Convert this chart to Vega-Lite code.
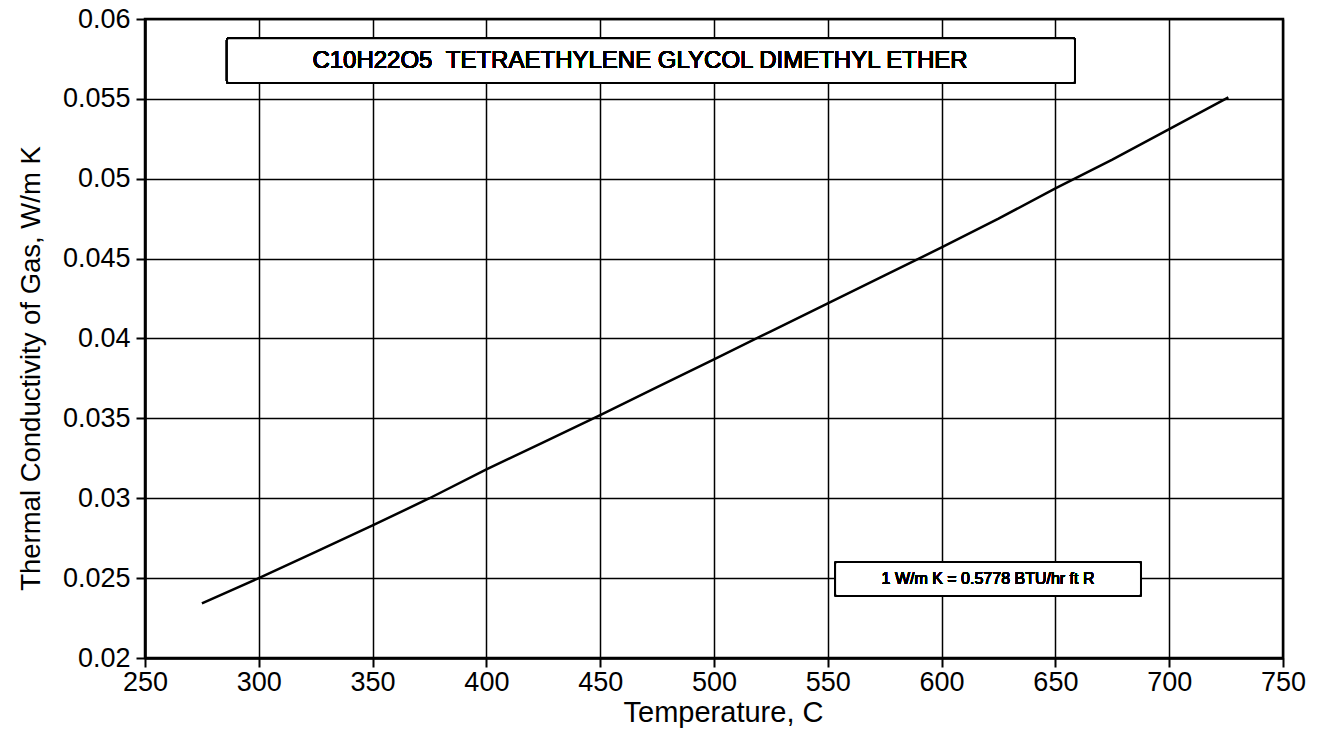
{
  "$schema": "https://vega.github.io/schema/vega-lite/v6.json",
  "width": 1138,
  "height": 639,
  "autosize": {"type": "none"},
  "padding": {"left": 145, "top": 19, "right": 43, "bottom": 79},
  "background": "white",
  "config": {
    "font": "Liberation Sans",
    "view": {"stroke": "black", "strokeWidth": 2.5},
    "axis": {
      "domainColor": "black",
      "domainWidth": 2.5,
      "gridColor": "black",
      "gridWidth": 1.5,
      "gridOpacity": 1,
      "tickColor": "black",
      "tickWidth": 2,
      "tickSize": 9,
      "labelColor": "black",
      "labelFont": "Liberation Sans",
      "labelFontSize": 27,
      "titleColor": "black",
      "titleFont": "Liberation Sans",
      "titleFontSize": 27,
      "titleFontWeight": "normal"
    }
  },
  "data": {
    "values": [
      {"T": 275, "k": 0.02342},
      {"T": 300, "k": 0.0250},
      {"T": 325, "k": 0.02665},
      {"T": 350, "k": 0.0283},
      {"T": 375, "k": 0.0300},
      {"T": 400, "k": 0.0318},
      {"T": 425, "k": 0.0335},
      {"T": 450, "k": 0.0352},
      {"T": 475, "k": 0.03695},
      {"T": 500, "k": 0.0387},
      {"T": 525, "k": 0.04045},
      {"T": 550, "k": 0.0422},
      {"T": 575, "k": 0.04395},
      {"T": 600, "k": 0.0457},
      {"T": 625, "k": 0.0475},
      {"T": 650, "k": 0.0494},
      {"T": 675, "k": 0.0512},
      {"T": 700, "k": 0.0531},
      {"T": 726, "k": 0.0551}
    ]
  },
  "layer": [
    {
      "mark": {"type": "line", "color": "black", "strokeWidth": 2.5, "clip": true},
      "encoding": {
        "x": {
          "field": "T",
          "type": "quantitative",
          "scale": {"domain": [250, 750], "nice": false, "zero": false},
          "axis": {
            "title": "Temperature, C",
            "titleFontSize": 29,
            "titleX": 578,
            "values": [250, 300, 350, 400, 450, 500, 550, 600, 650, 700, 750],
            "labelPadding": 2,
            "titlePadding": 3,
            "labelFlush": false,
            "grid": true
          }
        },
        "y": {
          "field": "k",
          "type": "quantitative",
          "scale": {"domain": [0.02, 0.06], "nice": false, "zero": false},
          "axis": {
            "title": "Thermal Conductivity of Gas, W/m K",
            "titleFontSize": 27.5,
            "titleY": 349,
            "values": [0.02, 0.025, 0.03, 0.035, 0.04, 0.045, 0.05, 0.055, 0.06],
            "labelExpr": "datum.value == 0.06 ? '0.06' : datum.value == 0.05 ? '0.05' : datum.value == 0.04 ? '0.04' : datum.value == 0.03 ? '0.03' : datum.value == 0.02 ? '0.02' : format(datum.value, '.3f')",
            "labelPadding": 6,
            "titlePadding": 17,
            "labelFlush": false,
            "grid": true
          }
        }
      }
    },
    {
      "mark": {"type": "rect", "fill": "white", "stroke": "black", "strokeWidth": 2, "cornerRadius": 2},
      "encoding": {
        "x": {"datum": 286, "type": "quantitative"},
        "x2": {"datum": 658.6},
        "y": {"datum": 0.0588, "type": "quantitative"},
        "y2": {"datum": 0.05599}
      }
    },
    {
      "mark": {"type": "text", "text": "C10H22O5 \u00a0TETRAETHYLENE GLYCOL DIMETHYL ETHER", "fontSize": 24, "font": "Liberation Sans", "fill": "black", "align": "center", "baseline": "middle"},
      "encoding": {
        "x": {"datum": 467.5, "type": "quantitative"},
        "y": {"datum": 0.0574, "type": "quantitative"}
      }
    },
    {
      "mark": {"type": "rect", "fill": "white", "stroke": "black", "strokeWidth": 2, "cornerRadius": 2},
      "encoding": {
        "x": {"datum": 553.2, "type": "quantitative"},
        "x2": {"datum": 687.6},
        "y": {"datum": 0.02601, "type": "quantitative"},
        "y2": {"datum": 0.02388}
      }
    },
    {
      "mark": {"type": "text", "text": "1 W/m K = 0.5778 BTU/hr ft R", "fontSize": 16, "font": "Liberation Sans", "fill": "black", "align": "center", "baseline": "middle"},
      "encoding": {
        "x": {"datum": 620.4, "type": "quantitative"},
        "y": {"datum": 0.02495, "type": "quantitative"}
      }
    }
  ]
}
